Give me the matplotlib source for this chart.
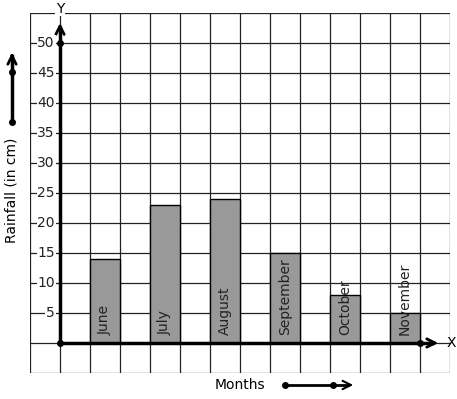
import matplotlib.pyplot as plt
from matplotlib.lines import Line2D

# chart data
months = ["June", "July", "August", "September", "October", "November"]
rainfall = [14, 23, 24, 15, 8, 5]
y_ticks = [5, 10, 15, 20, 25, 30, 35, 40, 45, 50]
bar_pos = [1.5, 3.5, 5.5, 7.5, 9.5, 11.5]

W, H = 457, 399
fig = plt.figure(figsize=(W / 100, H / 100), dpi=100)
ax = fig.add_axes([30 / W, (H - 373) / H, 420 / W, 360 / H])
ax.set_xlim(-1, 13)
ax.set_ylim(-5, 55)
ax.axis("off")

# square grid
for gx in range(-1, 14):
    ax.plot([gx, gx], [-5, 55], color="#222222", lw=0.9, zorder=1)
for gy in range(-5, 56, 5):
    ax.plot([-1, 13], [gy, gy], color="#222222", lw=0.9, zorder=1)

# bars with month names inside
ax.bar(bar_pos, rainfall, width=1, color="#999999", edgecolor="black",
       lw=1, zorder=2)
for x, m in zip(bar_pos, months):
    ax.text(x, 1.3, m, rotation=90, ha="center", va="bottom",
            fontsize=10, color="#222222", zorder=4)

# axes with arrows
ax.plot([0, 0], [0, 52.5], color="black", lw=2.5, zorder=3)
ax.annotate("", xy=(0, 53.8), xytext=(0, 51.5), zorder=3,
            arrowprops=dict(arrowstyle="->", lw=2, color="black",
                            mutation_scale=15))
ax.plot([0, 12.4], [0, 0], color="black", lw=2.5, zorder=3)
ax.annotate("", xy=(12.7, 0), xytext=(12.2, 0), zorder=3,
            arrowprops=dict(arrowstyle="->", lw=2, color="black",
                            mutation_scale=15))
ax.plot([0, 0, 12], [0, 50, 0], "o", color="black", ms=4, zorder=5)

for t in y_ticks:
    ax.text(-0.17, t, str(t), ha="right", va="center", fontsize=10,
            color="#222222", zorder=4,
            bbox=dict(facecolor="white", edgecolor="none", pad=0.5))

ax.text(0, 55.7, "Y", ha="center", va="center", fontsize=10, zorder=4,
        clip_on=False, bbox=dict(facecolor="white", edgecolor="none", pad=0.5))
ax.text(12.9, 0, "X", ha="left", va="center", fontsize=10, zorder=4)

# outside labels and direction arrows (figure pixels)
fig.text(12 / W, (H - 190) / H, "Rainfall (in cm)", rotation=90,
         ha="center", va="center", fontsize=10)
fig.text(240 / W, (H - 385) / H, "Months", ha="center", va="center",
         fontsize=10)

fig.add_artist(Line2D([12 / W, 12 / W], [(H - 122) / H, (H - 56) / H],
                      color="black", lw=2.5))
fig.add_artist(Line2D([12 / W, 12 / W], [(H - 122) / H, (H - 72) / H],
                      marker="o", ls="none", color="black", ms=4))
plt.annotate("", xy=(12, H - 50), xytext=(12, H - 60),
             xycoords="figure pixels", textcoords="figure pixels",
             arrowprops=dict(arrowstyle="->", lw=2, color="black",
                             mutation_scale=15))

fig.add_artist(Line2D([285 / W, 348 / W], [(H - 385) / H, (H - 385) / H],
                      color="black", lw=2))
fig.add_artist(Line2D([285 / W, 333 / W], [(H - 385) / H, (H - 385) / H],
                      marker="o", ls="none", color="black", ms=4))
plt.annotate("", xy=(356, H - 385), xytext=(345, H - 385),
             xycoords="figure pixels", textcoords="figure pixels",
             arrowprops=dict(arrowstyle="->", lw=1.5, color="black",
                             mutation_scale=15))

fig.savefig("out.png", dpi=100)
